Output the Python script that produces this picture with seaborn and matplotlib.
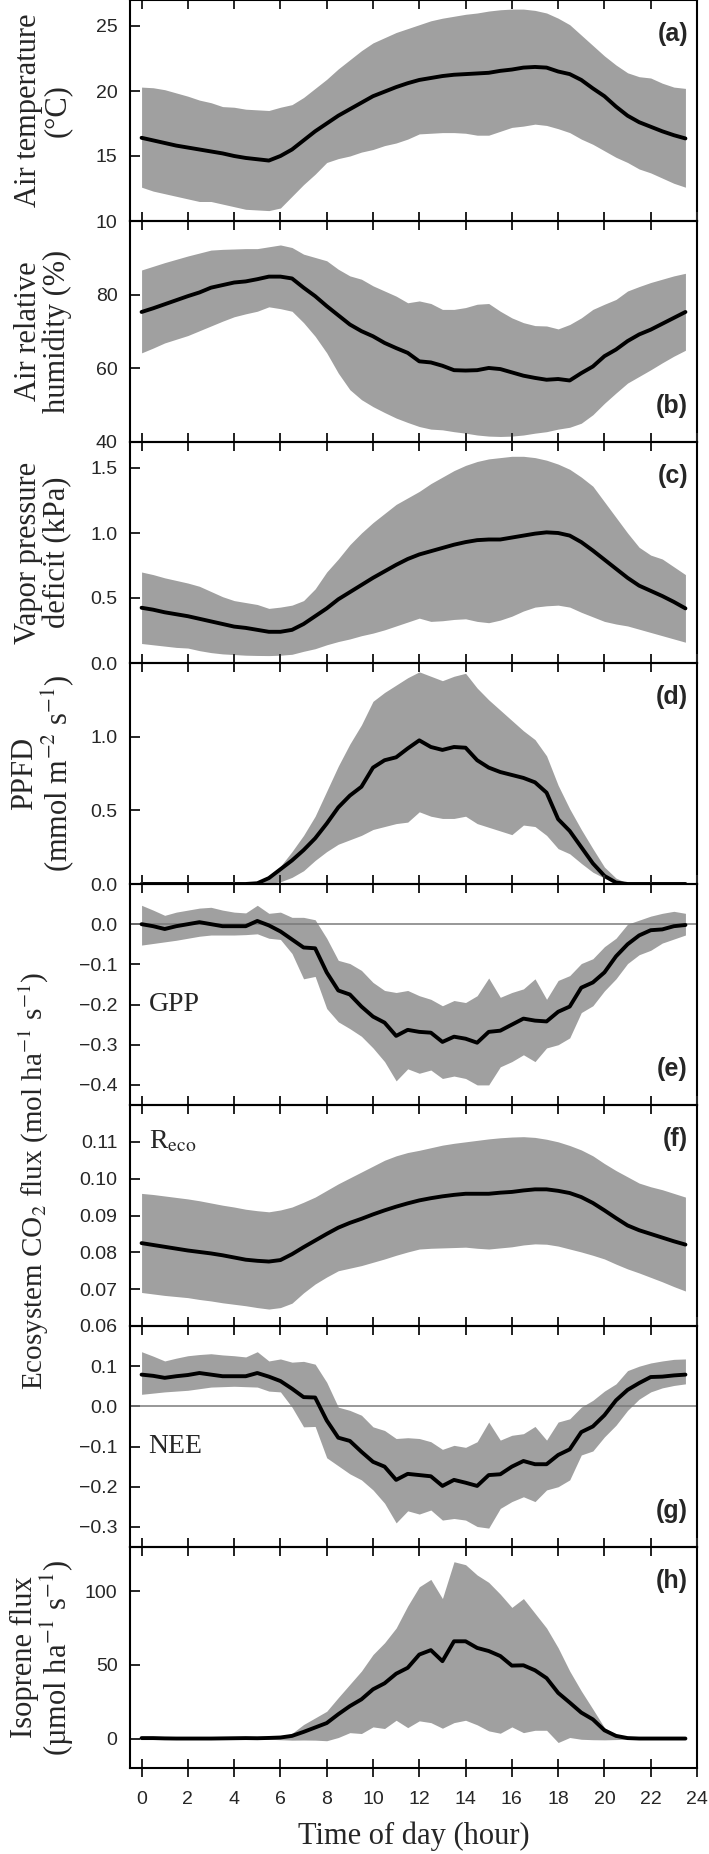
import matplotlib
matplotlib.use("Agg")
import matplotlib.pyplot as plt
from matplotlib.ticker import FuncFormatter
import pandas as pd
import seaborn as sns

sns.set_theme(style="ticks")
plt.rcParams["font.family"] = ["Liberation Sans", "DejaVu Sans"]
plt.rcParams["mathtext.fontset"] = "stix"

# half-hourly time of day
hours = [h / 2 for h in range(48)]

# (a) air temperature (degC)
temp_mean = [16.4, 16.2, 16.0, 15.8, 15.65, 15.5, 15.35, 15.2, 15.0, 14.85, 14.75, 14.65,
             15.0, 15.5, 16.2, 16.9, 17.5, 18.1, 18.6, 19.1, 19.6, 19.95, 20.3, 20.6,
             20.85, 21.0, 21.15, 21.25, 21.3, 21.35, 21.4, 21.55, 21.65, 21.8, 21.85, 21.8,
             21.5, 21.3, 20.85, 20.2, 19.6, 18.8, 18.1, 17.6, 17.25, 16.9, 16.6, 16.35]
temp_hi = [20.3, 20.25, 20.1, 19.85, 19.6, 19.3, 19.1, 18.8, 18.75, 18.6, 18.55, 18.5,
           18.75, 18.95, 19.5, 20.2, 20.9, 21.7, 22.4, 23.1, 23.7, 24.1, 24.5, 24.8,
           25.1, 25.4, 25.6, 25.75, 25.9, 26.0, 26.15, 26.25, 26.3, 26.3, 26.2, 26.0,
           25.6, 25.1, 24.3, 23.5, 22.7, 22.0, 21.4, 21.1, 21.0, 20.6, 20.3, 20.2]
temp_lo = [12.6, 12.3, 12.1, 11.9, 11.7, 11.5, 11.5, 11.3, 11.1, 10.9, 10.85, 10.8,
           11.0, 11.9, 12.8, 13.6, 14.5, 14.8, 15.0, 15.3, 15.5, 15.8, 16.0, 16.3,
           16.7, 16.75, 16.8, 16.8, 16.75, 16.6, 16.6, 16.9, 17.2, 17.3, 17.45, 17.35,
           17.1, 16.8, 16.3, 15.9, 15.4, 14.9, 14.5, 14.0, 13.7, 13.3, 12.9, 12.6]

# (b) air relative humidity (%)
rh_mean = [75.3, 76.3, 77.4, 78.5, 79.6, 80.6, 81.9, 82.6, 83.3, 83.6, 84.2, 84.9,
           84.9, 84.4, 81.9, 79.6, 76.9, 74.4, 71.9, 70.1, 68.7, 66.9, 65.5, 64.2,
           61.9, 61.6, 60.7, 59.5, 59.4, 59.5, 60.1, 59.8, 58.9, 58.0, 57.4, 56.9,
           57.1, 56.7, 58.7, 60.5, 63.3, 65.1, 67.4, 69.2, 70.5, 72.1, 73.7, 75.3]
rh_hi = [86.7, 87.7, 88.7, 89.6, 90.5, 91.3, 92.1, 92.3, 92.4, 92.5, 92.5, 93.0,
         93.5, 92.8, 91.0, 90.1, 89.2, 86.9, 85.1, 84.2, 82.4, 81.0, 79.6, 77.8,
         78.3, 77.6, 76.0, 76.0, 76.5, 77.4, 77.6, 75.5, 73.7, 72.4, 71.6, 71.5,
         70.7, 71.9, 73.7, 76.0, 77.4, 78.7, 81.0, 82.2, 83.3, 84.2, 85.1, 85.8]
rh_lo = [64.2, 65.5, 66.9, 67.9, 68.9, 70.2, 71.5, 72.8, 74.0, 74.8, 75.5, 76.7,
         76.2, 75.5, 72.4, 68.7, 64.2, 58.7, 54.2, 51.5, 49.6, 48.0, 46.5, 45.3,
         44.2, 43.5, 43.3, 42.8, 42.4, 41.9, 41.6, 41.5, 41.6, 41.9, 42.4, 42.8,
         43.5, 44.0, 45.1, 47.4, 50.5, 53.3, 56.0, 57.8, 59.6, 61.5, 63.3, 64.9]

# (c) vapor pressure deficit (kPa)
vpd_mean = [0.425, 0.41, 0.39, 0.375, 0.36, 0.34, 0.32, 0.30, 0.28, 0.27, 0.255, 0.24,
            0.24, 0.255, 0.30, 0.36, 0.42, 0.49, 0.545, 0.60, 0.655, 0.705, 0.755, 0.80,
            0.835, 0.86, 0.885, 0.91, 0.93, 0.945, 0.95, 0.95, 0.965, 0.98, 0.995, 1.005,
            1.0, 0.98, 0.93, 0.865, 0.795, 0.725, 0.655, 0.595, 0.555, 0.515, 0.47, 0.42]
vpd_hi = [0.70, 0.68, 0.655, 0.635, 0.615, 0.59, 0.55, 0.51, 0.48, 0.465, 0.45, 0.42,
          0.43, 0.445, 0.48, 0.57, 0.70, 0.80, 0.91, 1.0, 1.08, 1.15, 1.22, 1.27,
          1.32, 1.38, 1.43, 1.48, 1.52, 1.55, 1.57, 1.58, 1.59, 1.59, 1.58, 1.56,
          1.53, 1.49, 1.43, 1.36, 1.24, 1.12, 1.0, 0.89, 0.83, 0.80, 0.74, 0.68]
vpd_lo = [0.15, 0.14, 0.13, 0.12, 0.115, 0.095, 0.08, 0.07, 0.065, 0.06, 0.058, 0.057,
          0.06, 0.067, 0.09, 0.11, 0.14, 0.165, 0.185, 0.21, 0.23, 0.255, 0.285, 0.315,
          0.345, 0.32, 0.325, 0.335, 0.34, 0.32, 0.31, 0.33, 0.36, 0.40, 0.43, 0.44,
          0.445, 0.43, 0.39, 0.355, 0.32, 0.30, 0.285, 0.26, 0.235, 0.21, 0.185, 0.16]

# (d) PPFD (mmol m-2 s-1)
ppfd_mean = [0, 0, 0, 0, 0, 0, 0, 0, 0, 0, 0.005, 0.04,
             0.10, 0.16, 0.23, 0.31, 0.41, 0.52, 0.60, 0.66, 0.79, 0.84, 0.86, 0.92,
             0.975, 0.93, 0.91, 0.93, 0.925, 0.84, 0.79, 0.76, 0.74, 0.72, 0.69, 0.62,
             0.44, 0.36, 0.25, 0.14, 0.055, 0.01, 0, 0, 0, 0, 0, 0]
ppfd_hi = [0, 0, 0, 0, 0, 0, 0, 0, 0, 0, 0.01, 0.05,
           0.12, 0.22, 0.33, 0.46, 0.63, 0.80, 0.95, 1.08, 1.24, 1.30, 1.35, 1.40,
           1.44, 1.41, 1.38, 1.41, 1.43, 1.33, 1.25, 1.18, 1.11, 1.04, 0.98, 0.87,
           0.67, 0.51, 0.37, 0.24, 0.115, 0.04, 0.005, 0, 0, 0, 0, 0]
ppfd_lo = [0, 0, 0, 0, 0, 0, 0, 0, 0, 0, 0, 0.003,
           0.015, 0.045, 0.09, 0.16, 0.22, 0.27, 0.30, 0.33, 0.37, 0.39, 0.41, 0.42,
           0.49, 0.46, 0.445, 0.445, 0.46, 0.41, 0.385, 0.36, 0.335, 0.40, 0.39, 0.33,
           0.24, 0.205, 0.14, 0.08, 0.04, 0.005, 0, 0, 0, 0, 0, 0]

# (e) GPP (mol ha-1 s-1)
gpp_mean = [0.0, -0.005, -0.012, -0.005, 0.0, 0.005, 0.0, -0.005, -0.005, -0.005, 0.008, -0.003,
            -0.018, -0.038, -0.058, -0.06, -0.12, -0.165, -0.175, -0.205, -0.23, -0.245, -0.278, -0.263,
            -0.268, -0.27, -0.293, -0.28, -0.285, -0.295, -0.268, -0.265, -0.25, -0.235, -0.24, -0.242,
            -0.218, -0.205, -0.158, -0.145, -0.12, -0.08, -0.05, -0.028, -0.015, -0.013, -0.005, -0.002]
gpp_hi = [0.047, 0.035, 0.022, 0.03, 0.035, 0.04, 0.042, 0.035, 0.03, 0.028, 0.047, 0.027,
          0.03, 0.017, 0.017, 0.011, -0.035, -0.09, -0.098, -0.115, -0.145, -0.165, -0.17, -0.165,
          -0.178, -0.187, -0.203, -0.19, -0.195, -0.178, -0.134, -0.182, -0.17, -0.161, -0.136, -0.187,
          -0.14, -0.128, -0.098, -0.086, -0.056, -0.035, 0.0, 0.01, 0.02, 0.027, 0.032, 0.027]
gpp_lo = [-0.052, -0.048, -0.044, -0.04, -0.035, -0.03, -0.027, -0.027, -0.027, -0.026, -0.024, -0.035,
          -0.038, -0.073, -0.136, -0.13, -0.21, -0.243, -0.26, -0.279, -0.308, -0.342, -0.39, -0.36,
          -0.371, -0.363, -0.384, -0.378, -0.384, -0.40, -0.40, -0.355, -0.342, -0.325, -0.342, -0.308,
          -0.30, -0.283, -0.22, -0.203, -0.166, -0.136, -0.098, -0.076, -0.065, -0.047, -0.037, -0.027]

# (f) ecosystem respiration (mol ha-1 s-1)
reco_mean = [0.0825, 0.0820, 0.0815, 0.0810, 0.0805, 0.0801, 0.0797, 0.0792, 0.0786, 0.0780, 0.0777, 0.0775,
             0.0779, 0.0795, 0.0814, 0.0832, 0.0850, 0.0867, 0.0880, 0.0891, 0.0903, 0.0914, 0.0924, 0.0933,
             0.0941, 0.0947, 0.0952, 0.0956, 0.0959, 0.0959, 0.0959, 0.0962, 0.0964, 0.0968, 0.0971, 0.0971,
             0.0967, 0.0961, 0.0950, 0.0934, 0.0914, 0.0893, 0.0873, 0.0860, 0.0850, 0.0840, 0.0830, 0.0821]
reco_hi = [0.0960, 0.0957, 0.0953, 0.0949, 0.0945, 0.0940, 0.0934, 0.0928, 0.0923, 0.0917, 0.0913, 0.0910,
           0.0915, 0.0923, 0.0936, 0.0950, 0.0968, 0.0986, 0.1002, 0.1018, 0.1034, 0.1050, 0.1062, 0.1071,
           0.1077, 0.1084, 0.1091, 0.1096, 0.1100, 0.1104, 0.1108, 0.1111, 0.1113, 0.1114, 0.1112, 0.1107,
           0.1100, 0.1090, 0.1078, 0.1062, 0.1041, 0.1022, 0.1005, 0.0988, 0.0978, 0.0970, 0.0960, 0.0950]
reco_lo = [0.0691, 0.0687, 0.0683, 0.0680, 0.0677, 0.0672, 0.0668, 0.0663, 0.0659, 0.0655, 0.0650, 0.0646,
           0.0650, 0.0662, 0.0690, 0.0714, 0.0733, 0.0750, 0.0757, 0.0764, 0.0773, 0.0782, 0.0792, 0.0801,
           0.0809, 0.0811, 0.0812, 0.0813, 0.0814, 0.0811, 0.0809, 0.0812, 0.0815, 0.0820, 0.0823, 0.0822,
           0.0817, 0.0809, 0.0801, 0.0792, 0.0782, 0.0768, 0.0755, 0.0744, 0.0732, 0.0720, 0.0707, 0.0695]

# (g) NEE (mol ha-1 s-1)
nee_mean = [0.079, 0.076, 0.071, 0.075, 0.078, 0.083, 0.079, 0.075, 0.075, 0.075, 0.083, 0.074,
            0.063, 0.044, 0.023, 0.022, -0.035, -0.078, -0.086, -0.113, -0.138, -0.15, -0.183, -0.168,
            -0.171, -0.174, -0.198, -0.183, -0.19, -0.198, -0.171, -0.169, -0.15, -0.136, -0.144, -0.144,
            -0.121, -0.107, -0.064, -0.05, -0.022, 0.015, 0.041, 0.058, 0.073, 0.074, 0.077, 0.079]
nee_hi = [0.136, 0.125, 0.113, 0.12, 0.126, 0.129, 0.131, 0.128, 0.126, 0.123, 0.136, 0.113,
          0.118, 0.11, 0.112, 0.105, 0.06, -0.002, -0.01, -0.022, -0.051, -0.06, -0.08, -0.078,
          -0.08, -0.088, -0.107, -0.097, -0.102, -0.088, -0.039, -0.084, -0.072, -0.068, -0.05, -0.084,
          -0.039, -0.031, -0.002, 0.015, 0.038, 0.056, 0.089, 0.1, 0.108, 0.113, 0.117, 0.118]
nee_lo = [0.03, 0.033, 0.036, 0.038, 0.04, 0.044, 0.048, 0.049, 0.05, 0.049, 0.048, 0.038,
          0.036, -0.002, -0.051, -0.05, -0.128, -0.148, -0.168, -0.183, -0.208, -0.241, -0.29, -0.26,
          -0.268, -0.258, -0.283, -0.279, -0.283, -0.299, -0.303, -0.254, -0.237, -0.225, -0.237, -0.208,
          -0.2, -0.183, -0.121, -0.111, -0.076, -0.047, -0.01, 0.018, 0.036, 0.046, 0.052, 0.056]

# (h) isoprene flux (umol ha-1 s-1)
iso_mean = [0.3, 0.3, 0.1, 0, 0, 0, 0, 0.1, 0.2, 0.3, 0.2, 0.4,
            0.7, 1.8, 4.5, 7.5, 10.5, 16.5, 22, 26.6, 33.4, 37.5, 44, 48,
            57, 60, 52.5, 66, 66, 61.5, 59.4, 56, 49.5, 49.7, 46.3, 41,
            31, 24.4, 17.6, 13, 5.6, 1.8, 0.3, 0, 0, 0, 0, 0]
iso_hi = [0.5, 0.5, 0.4, 0.3, 0.3, 0.3, 0.4, 0.5, 0.5, 0.6, 0.6, 0.8,
          0.9, 3.5, 9.5, 14, 18.5, 27.8, 36.8, 45.8, 57, 65, 75, 90,
          103, 108, 95, 120, 118, 111, 106, 98, 89, 95, 85, 75,
          61.6, 45.8, 32.3, 20, 7.4, 2.5, 0.5, 0.3, 0.3, 0.3, 0.3, 0.3]
iso_lo = [-0.3, -0.3, -0.4, -0.4, -0.4, -0.4, -0.3, -0.3, -0.3, -0.3, -0.4, -0.5,
          -0.8, -1.1, -1.0, -1.1, -1.5, 0.7, 4, 3.4, 7.9, 6.8, 12.4, 7.4,
          12, 10.8, 7, 10.8, 12.4, 9.3, 5.2, 3.6, 7.9, 4, 5.6, 5.6,
          -2.7, 0.7, -0.5, -0.8, -0.9, -0.7, -0.5, -0.4, -0.3, -0.3, -0.3, -0.3]

series = {
    "a": (temp_mean, temp_lo, temp_hi),
    "b": (rh_mean, rh_lo, rh_hi),
    "c": (vpd_mean, vpd_lo, vpd_hi),
    "d": (ppfd_mean, ppfd_lo, ppfd_hi),
    "e": (gpp_mean, gpp_lo, gpp_hi),
    "f": (reco_mean, reco_lo, reco_hi),
    "g": (nee_mean, nee_lo, nee_hi),
    "h": (iso_mean, iso_lo, iso_hi),
}

# panel settings: ylim, yticks, tick format, letter on top (True) or bottom
panels = {
    "a": ((10, 27), [10, 15, 20, 25], "%g", True),
    "b": ((40, 100), [40, 60, 80], "%g", False),
    "c": ((0, 1.7), [0, 0.5, 1.0, 1.5], "%.1f", True),
    "d": ((0, 1.5), [0, 0.5, 1.0], "%.1f", True),
    "e": ((-0.45, 0.1), [-0.4, -0.3, -0.2, -0.1, 0], "%.1f", False),
    "f": ((0.06, 0.12), [0.06, 0.07, 0.08, 0.09, 0.10, 0.11], "%.2f", True),
    "g": ((-0.35, 0.2), [-0.3, -0.2, -0.1, 0, 0.1], "%.1f", False),
    "h": ((-20, 130), [0, 50, 100], "%g", True),
}

ylabels = {
    "a": "Air temperature\n(\u00b0C)",
    "b": "Air relative\nhumidity (%)",
    "c": "Vapor pressure\ndeficit (kPa)",
    "d": "PPFD\n(mmol m$^{-2}$ s$^{-1}$)",
    "h": "Isoprene flux\n(\u00b5mol ha$^{-1}$ s$^{-1}$)",
}

W, H = 709, 1854
left, right = 130, 697
ph = 221
serif = ["Liberation Serif", "DejaVu Serif"]

fig = plt.figure(figsize=(W / 100, H / 100), dpi=100)

for i, key in enumerate("abcdefgh"):
    mean, lo, hi = series[key]
    ylim, yticks, fmt, on_top = panels[key]
    ax = fig.add_axes([left / W, 1 - ph * (i + 1) / H, (right - left) / W, ph / H])
    ax.set_facecolor("none")

    df = pd.DataFrame({"hour": hours, "mean": mean, "lo": lo, "hi": hi})
    ax.fill_between(df["hour"], df["lo"], df["hi"], color="#a0a0a0", lw=0, zorder=1)
    if key in ("e", "g"):
        ax.axhline(0, color="#7a7a7a", lw=1.1, zorder=2)
    sns.lineplot(data=df, x="hour", y="mean", ax=ax, color="black", lw=2.8, zorder=3)

    ax.set_xlim(-0.5, 24)
    ax.set_ylim(*ylim)
    ax.set_xticks(range(0, 25, 2))
    ax.set_yticks(yticks)
    ax.yaxis.set_major_formatter(FuncFormatter(lambda v, p, f=fmt: (f % v).replace("-", "\u2212")))
    ax.set_xlabel("")
    ax.set_ylabel("")

    ax.tick_params(axis="x", direction="inout", length=13.5, width=1.4, top=True, bottom=True,
                   labelsize=14, pad=10, labelbottom=(key == "h"))
    ax.tick_params(axis="y", direction="in", length=7, width=1.4, right=False,
                   labelsize=14, pad=9)
    for s in ax.spines.values():
        s.set_linewidth(1.5)
        s.set_color("black")
        s.set_visible(True)

    if on_top:
        ax.text(0.984, 0.9, "(%s)" % key, transform=ax.transAxes, ha="right", va="top",
                fontsize=18, fontweight="bold")
    else:
        ax.text(0.984, 0.11, "(%s)" % key, transform=ax.transAxes, ha="right", va="bottom",
                fontsize=18, fontweight="bold")

    if key == "e":
        ax.text(0.3, -0.2, "GPP", ha="left", va="center", fontsize=20, family=serif)
    if key == "f":
        ax.text(0.3, 0.11, "R$_{\\mathrm{eco}}$", ha="left", va="center", fontsize=20, family=serif)
    if key == "g":
        ax.text(0.3, -0.1, "NEE", ha="left", va="center", fontsize=20, family=serif)

    if key in ylabels:
        fig.text(43 / W, 1 - (ph * i + ph / 2) / H, ylabels[key], rotation=90, ha="center",
                 va="center", fontsize=22, family=serif, linespacing=1.0,
                 multialignment="center")

fig.text(34 / W, 1 - 1181 / H, "Ecosystem CO$_2$ flux (mol ha$^{-1}$ s$^{-1}$)", rotation=90,
         ha="center", va="center", fontsize=21, family=serif)
fig.text((left + right) / 2 / W, 1 - 1836 / H, "Time of day (hour)", ha="center", va="center",
         fontsize=22, family=serif)

fig.savefig("out.png", dpi=100)
